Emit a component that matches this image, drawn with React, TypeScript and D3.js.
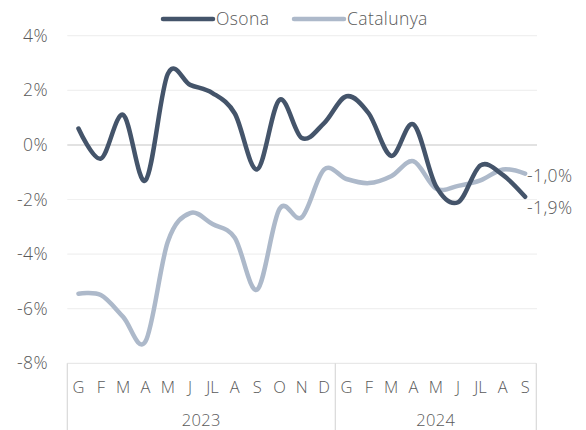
import React from "react";
import * as d3 from "d3";

const months = ["G","F","M","A","M","J","JL","A","S","O","N","D","G","F","M","A","M","J","JL","A","S"];
const years = [
  { label: "2023", start: 0, count: 12 },
  { label: "2024", start: 12, count: 9 },
];
const osona = [0.6,-0.5,1.1,-1.3,2.6,2.2,1.9,1.15,-0.9,1.65,0.25,0.8,1.78,1.15,-0.4,0.75,-1.5,-2.1,-0.75,-1.1,-1.9];
const catalunya = [-5.45,-5.5,-6.3,-7.2,-3.55,-2.5,-2.9,-3.4,-5.3,-2.35,-2.65,-0.9,-1.25,-1.4,-1.15,-0.6,-1.6,-1.5,-1.3,-0.9,-1.05];
const yTicks = [4, 2, 0, -2, -4, -6, -8];
const seriesNames = ["Osona", "Catalunya"];
const endLabels = ["-1,9%", "-1,0%"];

const W = 586, H = 430;
const FONT = "'Open Sans', Lato, sans-serif";
const TXT = "#595959";
const C_OSONA = "#44546A";
const C_CAT = "#ADB9CA";
const FS = 17.5;

export default function App() {
  const x = d3.scaleBand<number>().domain(d3.range(months.length)).range([67.3, 536.3]);
  const y = d3.scaleLinear().domain([-8, 4]).range([363.3, 35.7]);
  const cx = (i: number) => (x(i) as number) + x.bandwidth() / 2;
  const line = d3
    .line<number>()
    .x((_, i) => cx(i))
    .y((d) => y(d))
    .curve(d3.curveCardinal.tension(0));
  const last = months.length - 1;
  const fmt = (v: number) => `${v}%`;

  return (
    <svg width={W} height={H} style={{ position: "absolute", left: 0, top: 0, background: "#fff" }} fontFamily={FONT} fontWeight={350} letterSpacing={0.4}>
      {yTicks.map((t) => (
        <g key={t}>
          {t !== -8 && (
            <line x1={67.3} x2={537} y1={y(t)} y2={y(t)} stroke={t === 0 ? "#D9D9D9" : "#F0F0F0"} strokeWidth={t === 0 ? 1.5 : 1.2} />
          )}
          <text x={48} y={y(t)} dy="0.35em" textAnchor="end" fontSize={FS} fill={TXT}>
            {fmt(t)}
          </text>
        </g>
      ))}
      <line x1={67.3} x2={536.3} y1={y(-8)} y2={y(-8)} stroke="#E3E3E3" strokeWidth={1} />
      {[0, 12, 21].map((i) => {
        const xx = i < months.length ? (x(i) as number) : (x(last) as number) + x.bandwidth();
        return <line key={i} x1={xx} x2={xx} y1={y(-8)} y2={H} stroke="#D9D9D9" strokeWidth={1.2} />;
      })}
      {months.map((m, i) => (
        <text key={i} x={cx(i)} y={387} dy="0.35em" textAnchor="middle" fontSize={16.5} letterSpacing={0} fill={TXT}>
          {m}
        </text>
      ))}
      {years.map((yr) => {
        const x0 = x(yr.start) as number;
        const x1 = (x(yr.start + yr.count - 1) as number) + x.bandwidth();
        return (
          <text key={yr.label} x={(x0 + x1) / 2} y={420} dy="0.35em" textAnchor="middle" fontSize={16.5} fill={TXT}>
            {yr.label}
          </text>
        );
      })}
      <path d={line(catalunya) || ""} fill="none" stroke={C_CAT} strokeWidth={4.5} strokeLinecap="round" strokeLinejoin="round" />
      <path d={line(osona) || ""} fill="none" stroke={C_OSONA} strokeWidth={4.5} strokeLinecap="round" strokeLinejoin="round" />
      <text x={527} y={y(catalunya[last]) + 2} dy="0.35em" fontSize={FS} fill={TXT}>
        {endLabels[1]}
      </text>
      <text x={527} y={y(osona[last]) + 11} dy="0.35em" fontSize={FS} fill={TXT}>
        {endLabels[0]}
      </text>
      <line x1={163} x2={213} y1={19} y2={19} stroke={C_OSONA} strokeWidth={4.5} strokeLinecap="round" />
      <text x={216} y={19} dy="0.35em" fontSize={FS} fill={TXT}>{seriesNames[0]}</text>
      <line x1={294} x2={344} y1={19} y2={19} stroke={C_CAT} strokeWidth={4.5} strokeLinecap="round" />
      <text x={347} y={19} dy="0.35em" fontSize={FS} fill={TXT}>{seriesNames[1]}</text>
    </svg>
  );
}
